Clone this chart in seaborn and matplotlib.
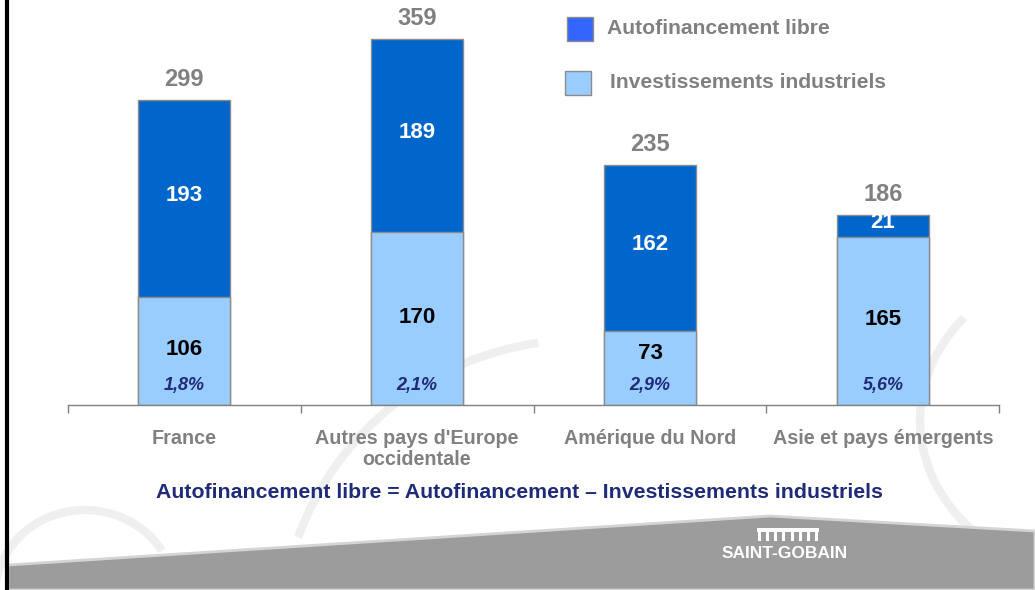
import numpy as np
import pandas as pd
import matplotlib; matplotlib.use('Agg')
import matplotlib.pyplot as plt
from matplotlib.patches import Arc, Polygon, Rectangle
import seaborn as sns

# ── Data ──────────────────────────────────────────────────
categories = ["France", "Autres pays d'Europe\noccidentale", "Amérique du Nord", "Asie et pays émergents"]
invest     = [106, 170, 73, 165]    # Investissements industriels
autofin    = [193, 189, 162, 21]    # Autofinancement libre
totals     = [299, 359, 235, 186]
pcts       = ["1,8%", "2,1%", "2,9%", "5,6%"]

DARK, LIGHT, EDGE = '#0066CC', '#99CCFF', '#8C8C8C'
GREY_TXT, NAVY = '#808080', '#1F2A78'

sns.set_theme(style='white')
plt.rcParams['font.family'] = ['Liberation Sans', 'DejaVu Sans']

fig = plt.figure(figsize=(10.35, 5.9), dpi=100)

# ── Background (slide decoration) ─────────────────────────
bg = fig.add_axes([0, 0, 1, 1], zorder=0)
bg.set_xlim(0, 1035); bg.set_ylim(590, 0); bg.axis('off')
# y is inverted here: theta 180..360 is the upper half on screen
for (cx, cy, w, h, t1, t2) in [(85, 595, 180, 170, 185, 330),
                               (1110, 420, 380, 320, 140, 215),
                               (580, 640, 600, 600, 200, 262)]:
    bg.add_patch(Arc((cx, cy), w, h, theta1=t1, theta2=t2, color='#efefef', lw=6))
bg.add_patch(Polygon([[8, 565], [770, 516], [1035, 531], [1035, 590], [8, 590]],
                     closed=True, fc='#9c9c9c', ec='#d4d4d4', lw=2))
bg.plot([7, 7], [0, 590], color='black', lw=3, solid_capstyle='butt')
# logo
bg.text(785, 553, 'SAINT-GOBAIN', color='white', fontsize=12.5, fontweight='bold',
        ha='center', va='center')
bg.add_patch(Rectangle((757, 528), 62, 4, fc='white', ec='none'))
for xx in np.linspace(758, 815, 8):
    bg.add_patch(Rectangle((xx, 528), 3, 13, fc='white', ec='none'))

# ── Chart ─────────────────────────────────────────────────
ax = fig.add_axes([67.5/1035, 185/590, 932/1035, 398/590], zorder=1)
ax.patch.set_alpha(0)
df = pd.DataFrame(dict(cat=categories, total=totals, invest=invest))
sns.barplot(data=df, x='cat', y='total', color=DARK, saturation=1, width=0.395,
            edgecolor=EDGE, linewidth=1, ax=ax)
sns.barplot(data=df, x='cat', y='invest', color=LIGHT, saturation=1, width=0.395,
            edgecolor=EDGE, linewidth=1, ax=ax)

for i in range(len(categories)):
    ax.text(i, totals[i] + 20, str(totals[i]), ha='center', va='center',
            fontsize=17, fontweight='bold', color=GREY_TXT)
    ax.text(i, invest[i] + autofin[i] / 2 + 3, str(autofin[i]), ha='center', va='center',
            fontsize=16, fontweight='bold', color='white')
    ax.text(i, max(invest[i] / 2 + 1, 50), str(invest[i]), ha='center', va='center',
            fontsize=16, fontweight='bold', color='black')
    ax.text(i, 19.5, pcts[i], ha='center', va='center', fontsize=13,
            fontweight='bold', fontstyle='italic', color=NAVY)

ax.set_xlim(-0.5, 3.5); ax.set_ylim(0, 390)
ax.set_xlabel(''); ax.set_ylabel(''); ax.set_yticks([])
for s in ['top', 'right', 'left']:
    ax.spines[s].set_visible(False)
ax.spines['bottom'].set_color(GREY_TXT); ax.spines['bottom'].set_linewidth(1)
ax.set_xticks(range(4))
ax.set_xticklabels(categories, fontsize=14.2, fontweight='bold', color=GREY_TXT,
                   linespacing=1.15)
ax.tick_params(axis='x', which='major', length=0, pad=17)
ax.set_xticks(np.arange(-0.5, 4, 1), minor=True)
ax.tick_params(axis='x', which='minor', length=6, color=GREY_TXT, width=1, direction='out',
               bottom=True)

# ── Legend (custom) ───────────────────────────────────────
fig.patches.append(Rectangle((567/1035, 1 - 41/590), 26/1035, 24/590, transform=fig.transFigure,
                             fc='#3366FF', ec=EDGE, lw=1))
fig.patches.append(Rectangle((565/1035, 1 - 95/590), 26/1035, 24/590, transform=fig.transFigure,
                             fc=LIGHT, ec=EDGE, lw=1))
fig.text(607/1035, 1 - 29/590, 'Autofinancement libre', fontsize=15.2, fontweight='bold',
         color=GREY_TXT, va='center')
fig.text(610/1035, 1 - 82/590, 'Investissements industriels', fontsize=15.2, fontweight='bold',
         color=GREY_TXT, va='center')

fig.text(519/1035, 1 - 493/590,
         'Autofinancement libre = Autofinancement \u2013 Investissements industriels',
         fontsize=15.3, fontweight='bold', color=NAVY, ha='center', va='center')

fig.savefig('out.png', dpi=100, facecolor='white')
